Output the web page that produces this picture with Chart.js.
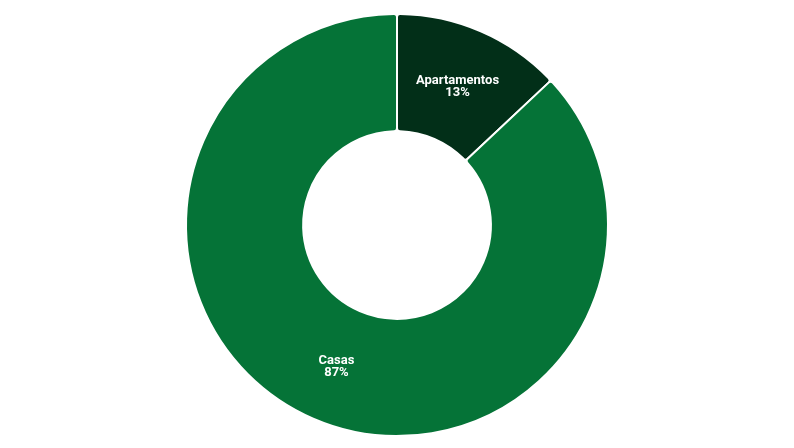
<!DOCTYPE html>
<html>
<head>
<meta charset="utf-8">
<script src="https://cdn.jsdelivr.net/npm/chart.js@4"></script>
<style>
  html, body { margin: 0; padding: 0; background: #fff; }
  #wrap { width: 794px; height: 448px; }
</style>
</head>
<body>
<div id="wrap"><canvas id="myChart"></canvas></div>
<script>
// Data
var categories = ['Apartamentos', 'Casas'];
var shares = [13, 87];
var sliceColors = ['#022f18', '#057337'];

// Draws the name and percent inside each slice
var sliceLabels = {
    id: 'sliceLabels',
    afterDatasetsDraw: function (chart) {
        var ctx = chart.ctx;
        var meta = chart.getDatasetMeta(0);
        ctx.save();
        ctx.fillStyle = '#ffffff';
        ctx.textAlign = 'center';
        ctx.textBaseline = 'middle';
        ctx.font = 'bold 13px Roboto, "Open Sans", sans-serif';
        meta.data.forEach(function (arc, i) {
            var pos = arc.tooltipPosition();
            ctx.fillText(categories[i], pos.x, pos.y - 4);
            ctx.fillText(shares[i] + '%', pos.x, pos.y + 8);
        });
        ctx.restore();
    }
};

var ctx = document.getElementById('myChart').getContext('2d');
var myChart = new Chart(ctx, {
    type: 'doughnut',
    data: {
        labels: categories,
        datasets: [{
            data: shares,
            backgroundColor: sliceColors,
            borderColor: '#ffffff',
            borderWidth: 2,
            borderRadius: 3
        }]
    },
    options: {
        responsive: true,
        maintainAspectRatio: false,
        animation: false,
        cutout: '44.5%',
        layout: { padding: { top: 13, bottom: 11 } },
        plugins: {
            legend: { display: false },
            tooltip: { enabled: false }
        }
    },
    plugins: [sliceLabels]
});
</script>
</body>
</html>
